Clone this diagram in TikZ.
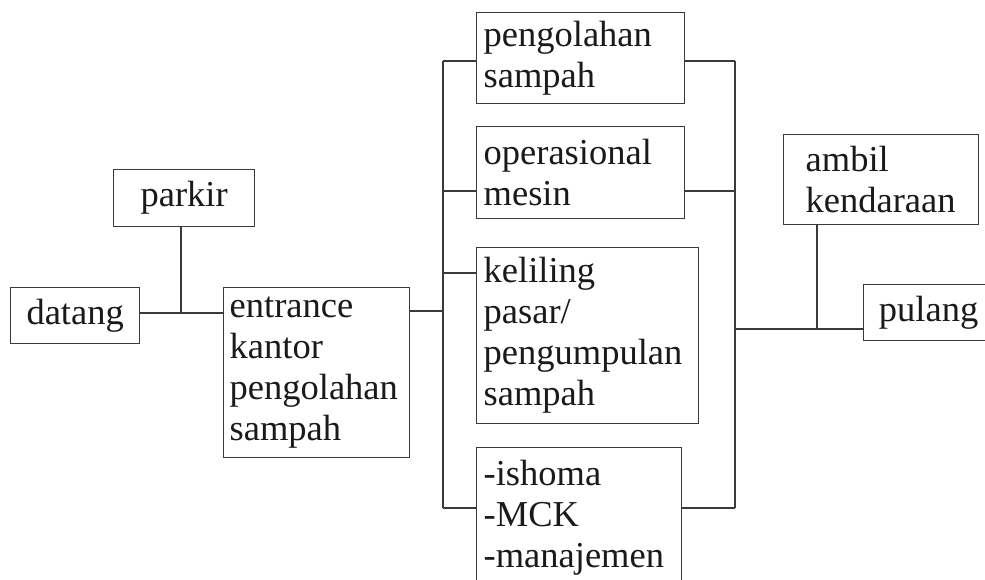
\documentclass[tikz,border=0pt]{standalone}
\usepackage{fontspec}
\setmainfont{Liberation Serif}
\definecolor{linegray}{HTML}{3A3A3A}
\definecolor{inkcol}{HTML}{1A1A1A}
\begin{document}
\begin{tikzpicture}[x=1pt,y=-1pt,
  box/.style={draw=linegray, line width=1.3pt, rectangle, inner ysep=0pt,
    anchor=north west, text=inkcol, font=\fontsize{36.5}{41}\selectfont},
  wire/.style={draw=linegray, line width=1.3pt}]
\clip (0,0) rectangle (985,579);
\fill[white] (0,0) rectangle (985,579);

% left side
\node[box, minimum width=141pt, minimum height=57pt, align=center] (parkir) at (113,169) {parkir};
\node[box, minimum width=129pt, minimum height=56pt, align=center] (datang) at (10,287) {datang};
\node[box, minimum width=186pt, minimum height=170pt, text width=174pt, inner xsep=6pt, align=left]
  (entrance) at (223,287) {entrance\\kantor\\pengolahan\\sampah};

% activities
\node[box, minimum width=208pt, minimum height=91pt, text width=194pt, inner xsep=7pt, align=left]
  (olah) at (476,12) {pengolahan\\sampah};
\node[box, minimum width=208pt, minimum height=92pt, text width=194pt, inner xsep=7pt, align=left]
  (mesin) at (476,126) {operasional\\mesin};
\node[box, minimum width=222pt, minimum height=176pt, text width=208pt, inner xsep=7pt, align=left]
  (pasar) at (476,247) {keliling\\pasar/\\pengumpulan\\sampah};
\node[box, minimum width=205pt, minimum height=141pt, text width=191pt, inner xsep=7pt, align=left]
  (ishoma) at (476,447) {-ishoma\\-MCK\\-manajemen};

% right side
\node[box, minimum width=195pt, minimum height=90pt, text width=151pt, inner xsep=22pt, align=left]
  (ambil) at (783,134) {ambil\\kendaraan};
\node[box, minimum width=130pt, minimum height=56pt, align=center] (pulang) at (863,284) {pulang};

% junctions
\coordinate (j1) at (181,313);
\coordinate (lt) at (443,61);
\coordinate (lm) at (443,191);
\coordinate (lk) at (443,273);
\coordinate (le) at (443,311);
\coordinate (lb) at (443,508);
\coordinate (rt) at (735,61);
\coordinate (rm) at (735,191);
\coordinate (ro) at (735,329);
\coordinate (rb) at (735,508);
\coordinate (j2) at (817,329);

% arrival
\draw[wire] (datang.east |- j1) -- (j1) -- (entrance.west |- j1);
\draw[wire] (j1 |- parkir.south) -- (j1);
\draw[wire] (entrance.east |- le) -- (le);

% left bus
\draw[wire] (lt) -- (lb);
\draw[wire] (lt) -- (lt -| olah.west);
\draw[wire] (lm) -- (lm -| mesin.west);
\draw[wire] (lk) -- (lk -| pasar.west);
\draw[wire] (lb) -- (lb -| ishoma.west);

% right bus
\draw[wire] (rt) -- (rb);
\draw[wire] (rt -| olah.east) -- (rt);
\draw[wire] (rm -| mesin.east) -- (rm);
\draw[wire] (rb -| ishoma.east) -- (rb);

% departure
\draw[wire] (ro) -- (ro -| pulang.west);
\draw[wire] (j2 |- ambil.south) -- (j2);
\end{tikzpicture}
\end{document}
